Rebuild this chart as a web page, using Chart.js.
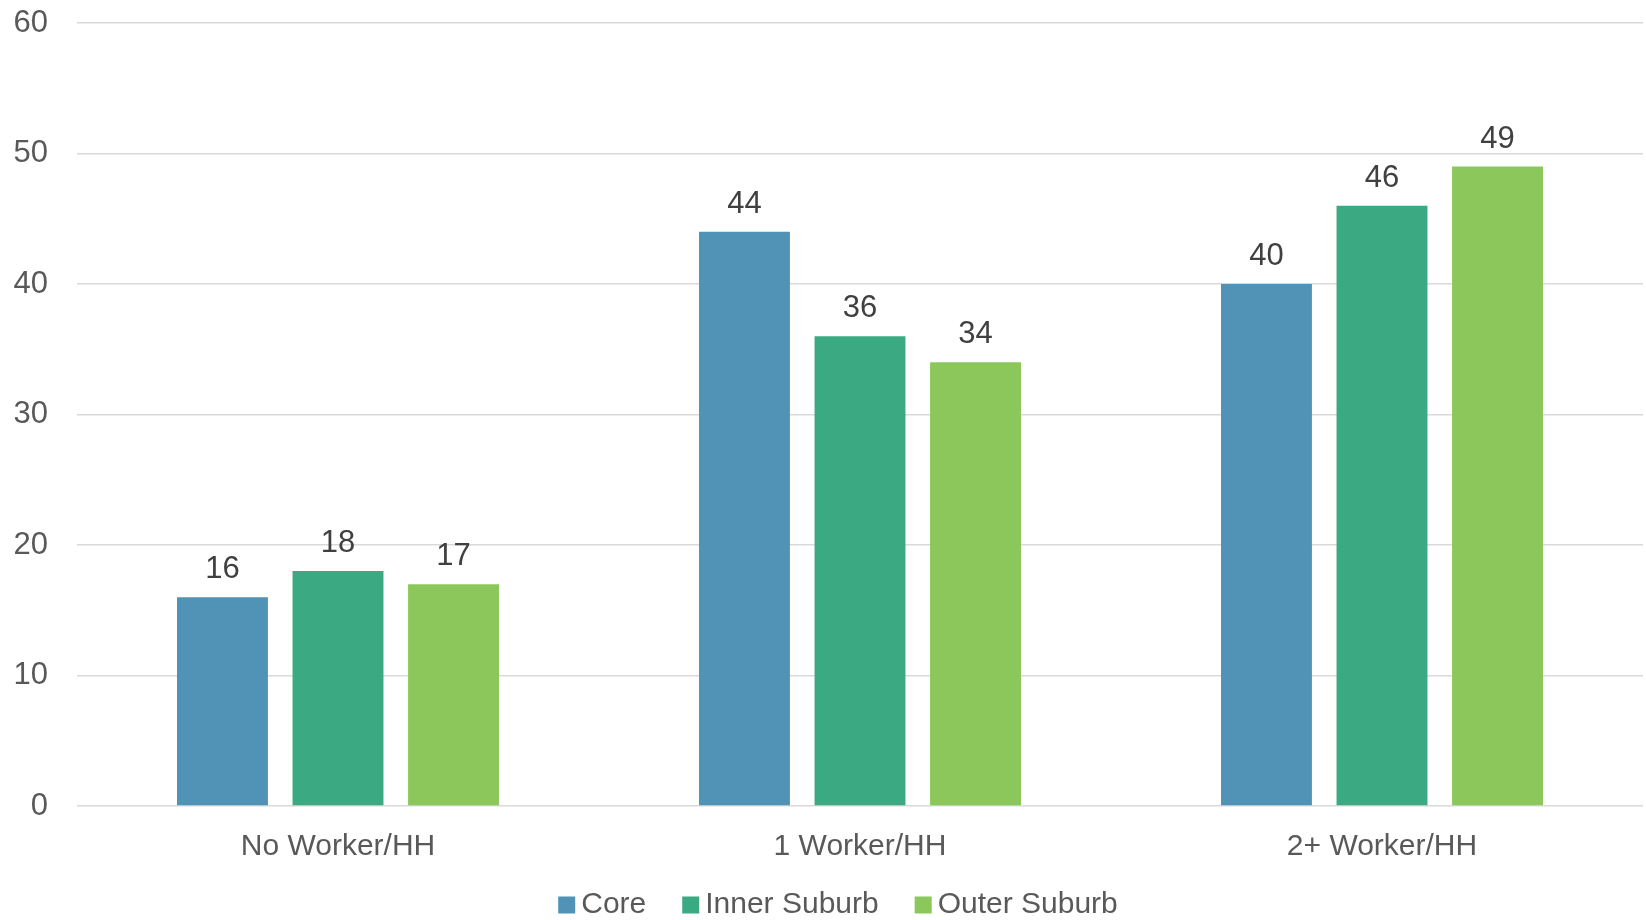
<!DOCTYPE html>
<html>
<head>
<meta charset="utf-8">
<title>Workers per household</title>
<script src="https://cdn.jsdelivr.net/npm/chart.js@4.4.1/dist/chart.umd.min.js"></script>
<style>
  html, body { margin: 0; padding: 0; background: #fff; }
  #wrap { width: 1646px; height: 920px; }
</style>
</head>
<body>
<div id="wrap"><canvas id="workerChart" width="1646" height="920"></canvas></div>
<script>
// Chart values
const categories = ['No Worker/HH', '1 Worker/HH', '2+ Worker/HH'];
const seriesNames = ['Core', 'Inner Suburb', 'Outer Suburb'];
const coreValues = [16, 44, 40];
const innerSuburbValues = [18, 36, 46];
const outerSuburbValues = [17, 34, 49];
const yTicks = [0, 10, 20, 30, 40, 50, 60];

const FONT = '"Liberation Sans", Arial, sans-serif';

// draws the number above each bar
const barValueLabels = {
    id: 'barValueLabels',
    afterDatasetsDraw(chart) {
        const ctx = chart.ctx;
        ctx.save();
        ctx.font = '31px ' + FONT;
        ctx.fillStyle = '#404040';
        ctx.textAlign = 'center';
        ctx.textBaseline = 'alphabetic';
        chart.data.datasets.forEach((ds, i) => {
            chart.getDatasetMeta(i).data.forEach((bar, j) => {
                ctx.fillText(ds.data[j], bar.x, bar.y - 19);
            });
        });
        ctx.restore();
    }
};

// compact legend under the axis (box, small gap, label)
const bottomLegend = {
    id: 'bottomLegend',
    afterDraw(chart, args, opts) {
        const ctx = chart.ctx;
        ctx.save();
        ctx.font = opts.font;
        const items = chart.data.datasets.map(ds => ({
            text: ds.label,
            color: ds.backgroundColor,
            w: ctx.measureText(ds.label).width
        }));
        let total = opts.itemGap * (items.length - 1);
        items.forEach(it => { total += opts.box + opts.textGap + it.w; });
        let x = opts.centerX - total / 2;
        ctx.textBaseline = 'middle';
        items.forEach(it => {
            ctx.fillStyle = it.color;
            ctx.fillRect(x, opts.y - opts.box / 2, opts.box, opts.box);
            x += opts.box + opts.textGap;
            ctx.fillStyle = opts.color;
            ctx.fillText(it.text, x, opts.y);
            x += it.w + opts.itemGap;
        });
        ctx.restore();
    }
};

document.addEventListener("DOMContentLoaded", function() {
    const ctx = document.getElementById('workerChart').getContext('2d');
    new Chart(ctx, {
        type: 'bar',
        data: {
            labels: categories,
            datasets: [
                { label: seriesNames[0], data: coreValues, backgroundColor: '#5193B6' },
                { label: seriesNames[1], data: innerSuburbValues, backgroundColor: '#3BAA82' },
                { label: seriesNames[2], data: outerSuburbValues, backgroundColor: '#8BC75A' }
            ]
        },
        options: {
            responsive: false,
            animation: false,
            layout: { padding: { top: 23, right: 3, left: 0, bottom: 32 } },
            datasets: {
                bar: { categoryPercentage: 0.664, barPercentage: 0.787, borderWidth: 0 }
            },
            scales: {
                x: {
                    grid: { display: false, drawTicks: false },
                    border: { display: false },
                    ticks: {
                        color: '#595959',
                        padding: 23,
                        font: { family: FONT, size: 30, lineHeight: 1.2 }
                    }
                },
                y: {
                    min: 0,
                    max: 60,
                    afterBuildTicks: axis => { axis.ticks = yTicks.map(v => ({ value: v })); },
                    afterFit: axis => { axis.width = 77; },
                    grid: { color: '#d9d9d9', lineWidth: 1.5, tickLength: 29, tickColor: 'rgba(0,0,0,0)' },
                    border: { display: false },
                    ticks: {
                        color: '#595959',
                        padding: 0,
                        font: { family: FONT, size: 31 }
                    }
                }
            },
            plugins: {
                tooltip: { enabled: false },
                legend: { display: false },
                bottomLegend: {
                    font: '30px ' + FONT,
                    color: '#595959',
                    box: 17,
                    textGap: 6,
                    itemGap: 36,
                    centerX: 838,
                    y: 905
                }
            }
        },
        plugins: [barValueLabels, bottomLegend]
    });
});
</script>
</body>
</html>
